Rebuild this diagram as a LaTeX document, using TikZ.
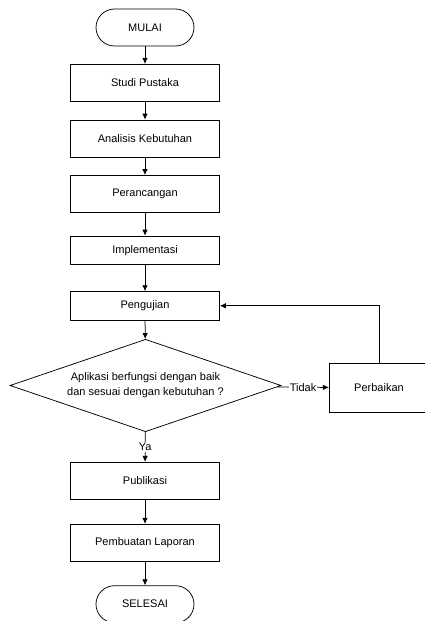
\documentclass[tikz,border=0pt]{standalone}
\usepackage{fontspec}
\setmainfont{Liberation Sans}
\usetikzlibrary{shapes}
\usetikzlibrary{arrows.meta}
\tikzset{>={Latex[length=6pt,width=5.5pt]}}

\begin{document}
\begin{tikzpicture}[x=1pt, y=-1pt, line width=0.75pt, font=\fontsize{11}{15}\selectfont]
\tikzset{stepbox/.style={draw, rectangle, minimum width=149pt, minimum height=37pt, inner sep=0pt}}
\tikzset{thinbox/.style={stepbox, minimum height=28.3pt}}
\tikzset{terminal/.style={draw, rectangle, rounded corners=18.5pt, minimum width=98pt, minimum height=37pt, inner sep=0pt}}
\tikzset{decision/.style={draw, diamond, aspect=3, inner sep=0pt, minimum width=271pt, minimum height=92.4pt, align=center}}
\tikzset{flowlabel/.style={fill=white, inner sep=1pt}}
    \useasboundingbox (0,0) rectangle (425,621);

    \coordinate (Pmulai) at (145,27.5);
    \coordinate (Pstudi) at (145,82.8);
    \coordinate (Panalisis) at (145,138.5);
    \coordinate (Prancang) at (145,194);
    \coordinate (Pimpl) at (145,250.2);
    \coordinate (Puji) at (145,305.8);
    \coordinate (Pcek) at (145.5,385.5);
    \coordinate (Pbaik) at (379,388);
    \coordinate (Ppubl) at (145,480.8);
    \coordinate (Plapor) at (145,542.7);
    \coordinate (Pselesai) at (145,604.2);

    \node[terminal] (mulai) at (Pmulai) {MULAI};
    \node[stepbox] (studi) at (Pstudi) {Studi Pustaka};
    \node[stepbox] (analisis) at (Panalisis) {Analisis Kebutuhan};
    \node[stepbox] (rancang) at (Prancang) {Perancangan};
    \node[thinbox] (impl) at (Pimpl) {Implementasi};
    \node[thinbox] (uji) at (Puji) {Pengujian};
    \node[decision] (cek) at (Pcek) {Aplikasi berfungsi dengan baik\\dan sesuai dengan kebutuhan ?};
    \node[stepbox, minimum width=99.4pt, minimum height=49.4pt] (baik) at (Pbaik) {Perbaikan};
    \node[stepbox] (publ) at (Ppubl) {Publikasi};
    \node[stepbox] (lapor) at (Plapor) {Pembuatan Laporan};
    \node[terminal] (selesai) at (Pselesai) {SELESAI};
% % % % % % % % % % % % % % % % % % %
    \draw[->] (mulai) -- (studi);
    \draw[->] (studi) -- (analisis);
    \draw[->] (analisis) -- (rancang);
    \draw[->] (rancang) -- (impl);
    \draw[->] (impl) -- (uji);
    \draw[->] (uji) -- (cek);
    \draw[->] (cek) -- node[flowlabel] {Tidak} (baik);
    \draw[->] (baik.north) |- (uji.east);
    \draw[->] (cek) -- node[flowlabel] {Ya} (publ);
    \draw[->] (publ) -- (lapor);
    \draw[->] (lapor) -- (selesai);
\end{tikzpicture}
\end{document}
